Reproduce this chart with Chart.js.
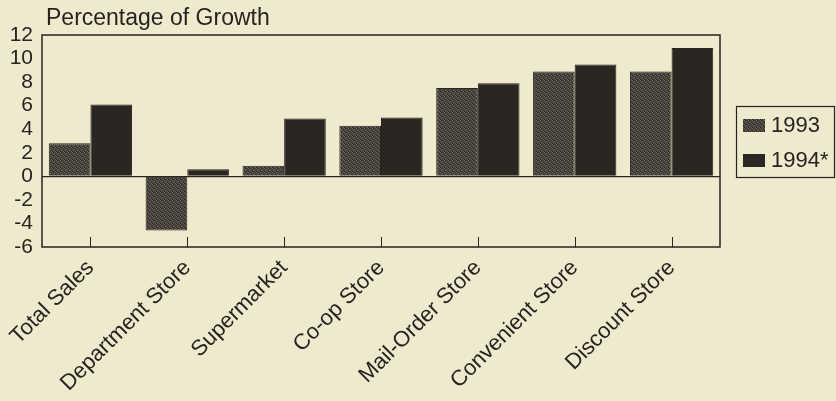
<!DOCTYPE html>
<html>
<head>
<meta charset="utf-8">
<script src="https://cdn.jsdelivr.net/npm/chart.js@4.4.1/dist/chart.umd.min.js"></script>
<style>
  html, body { margin: 0; padding: 0; background: #efeacd; }
  #wrap { width: 836px; height: 401px; }
</style>
</head>
<body>
<div id="wrap"><canvas id="growthChart"></canvas></div>
<script>
'use strict';

const stores = ['Total Sales', 'Department Store', 'Supermarket', 'Co-op Store',
  'Mail-Order Store', 'Convenient Store', 'Discount Store'];
const growth1993 = [2.8, -4.6, 0.9, 4.3, 7.5, 8.9, 8.9];
const growth1994 = [6.1, 0.6, 4.9, 5.0, 7.9, 9.5, 10.9];
const yMin = -6;
const yMax = 12;
const yStep = 2;

const INK = '#262420';
const FONT = 'Liberation Sans, Arial, Helvetica, sans-serif';

// grainy grey fill used for the 1993 bars
function grainPattern() {
  const c = document.createElement('canvas');
  c.width = 4; c.height = 4;
  const g = c.getContext('2d');
  g.fillStyle = '#45413a';
  g.fillRect(0, 0, 4, 4);
  g.fillStyle = '#6c675c';
  [[0, 0], [2, 1], [1, 2], [3, 3]].forEach(p => g.fillRect(p[0], p[1], 1, 1));
  g.fillStyle = '#2e2b26';
  [[1, 0], [3, 2], [0, 3]].forEach(p => g.fillRect(p[0], p[1], 1, 1));
  return g.createPattern(c, 'repeat');
}

// frame, inward ticks on the category axis, title and boxed legend
const decorations = {
  id: 'decorations',
  afterDraw(chart) {
    const { ctx, chartArea: a, scales } = chart;
    ctx.save();
    ctx.strokeStyle = INK;
    ctx.lineWidth = 1.5;
    ctx.strokeRect(a.left, a.top, a.right - a.left, a.bottom - a.top);

    ctx.lineWidth = 1;
    scales.x.ticks.forEach((t, i) => {
      const x = Math.round(scales.x.getPixelForTick(i)) + 0.5;
      ctx.beginPath();
      ctx.moveTo(x, a.bottom);
      ctx.lineTo(x, a.bottom - 10);
      ctx.stroke();
    });

    ctx.fillStyle = INK;
    ctx.font = '23px ' + FONT;
    ctx.textBaseline = 'alphabetic';
    ctx.textAlign = 'left';
    ctx.fillText('Percentage of Growth', a.left + 4, 25);

    // legend, vertically centred on the plot area
    const mid = (a.top + a.bottom) / 2;
    const bx = a.right + 16, bw = 99, bh = 71;
    const by = Math.round(mid - bh / 2);
    ctx.lineWidth = 1.2;
    ctx.strokeRect(bx + 0.5, by + 0.5, bw - 1, bh);
    ctx.font = '22px ' + FONT;
    ctx.textBaseline = 'middle';
    chart.data.datasets.forEach((ds, i) => {
      const cy = by + 19 + i * 35;
      ctx.fillStyle = ds.backgroundColor;
      ctx.fillRect(bx + 7, cy - 6, 22, 13);
      ctx.fillStyle = INK;
      ctx.fillText(ds.label, bx + 35, cy + 1);
    });
    ctx.restore();
  }
};

new Chart(document.getElementById('growthChart'), {
  type: 'bar',
  data: {
    labels: stores,
    datasets: [{
      label: '1993',
      data: growth1993,
      backgroundColor: grainPattern(),
      borderColor: INK,
      borderWidth: 1
    }, {
      label: '1994*',
      data: growth1994,
      backgroundColor: '#2a2622',
      borderColor: INK,
      borderWidth: 1
    }]
  },
  options: {
    responsive: true,
    maintainAspectRatio: false,
    animation: false,
    devicePixelRatio: 1,
    layout: { padding: { top: 35, left: 0, right: 116, bottom: 0 } },
    datasets: { bar: { categoryPercentage: 0.86, barPercentage: 1.0 } },
    plugins: {
      tooltip: { enabled: false },
      legend: { display: false }
    },
    scales: {
      x: {
        grid: { display: false },
        border: { display: false },
        afterFit: scale => { scale.height = 154; },
        ticks: {
          color: INK,
          font: { family: FONT, size: 22 },
          minRotation: 45,
          maxRotation: 45,
          autoSkip: false,
          padding: 0
        }
      },
      y: {
        min: yMin,
        max: yMax,
        afterFit: scale => { scale.width = 42; },
        grid: {
          drawTicks: false,
          color: ctx => ctx.tick && ctx.tick.value === 0 ? INK : 'transparent',
          lineWidth: 1.2
        },
        border: { display: false },
        ticks: {
          stepSize: yStep,
          autoSkip: false,
          color: INK,
          font: { family: FONT, size: 21 },
          padding: 9
        }
      }
    }
  },
  plugins: [decorations]
});
</script>
</body>
</html>
